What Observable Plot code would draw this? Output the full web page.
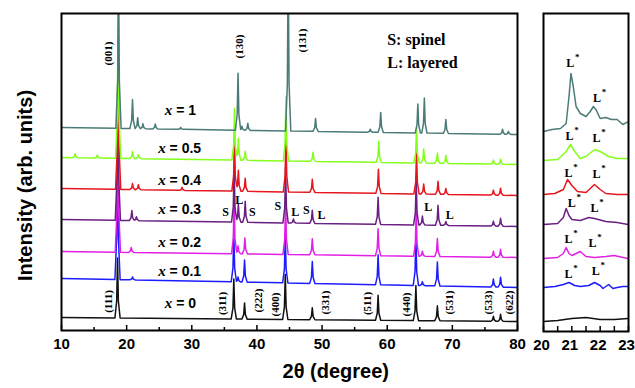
<!DOCTYPE html>
<html><head><meta charset="utf-8">
<script src="https://cdn.jsdelivr.net/npm/d3@7"></script>
<script src="https://cdn.jsdelivr.net/npm/@observablehq/plot@0.6"></script>
<style>
html,body{margin:0;padding:0;background:#fff;}
#wrap{position:relative;width:635px;height:388px;overflow:hidden;}
#wrap svg{position:absolute;top:0;overflow:visible;}
</style></head>
<body><div id="wrap"></div>
<script>
// ---- data (intensity in arbitrary, offset units) ----
const seriesNames = ["x = 0", "x = 0.1", "x = 0.2", "x = 0.3", "x = 0.4", "x = 0.5", "x = 1"];
const seriesValues = ["0", "0.1", "0.2", "0.3", "0.4", "0.5", "1"];
const seriesColors = ["#111111", "#1c1cff", "#e21fe6", "#6a1f82", "#e5161d", "#84ff1a", "#4a7b77"];
// background level at 2θ = 10 and 2θ = 80
const background = [[13, 9], [52, 43], [79, 73], [111, 104], [142, 135], [173, 166], [203, 196]];
// [2θ, peak height above background]
const peaks0 = [[18.6,60],[36.45,40],[38.1,16],[44.35,45],[48.5,12],[58.6,25],[64.4,35],[67.7,15],[76.3,5],[77.4,7]];
const peaks01 = [[18.6,150],[20.9,3],[36.45,50],[37.1,5],[38.1,22],[44.35,50],[48.5,22],[58.6,30],[64.4,50],[65.4,4],[67.7,24],[76.3,8],[77.4,10]];
const peaks02 = [[18.65,150],[20.7,5],[36.5,55],[37.1,8],[38.15,16],[44.4,55],[48.5,16],[58.6,27],[64.45,45],[65.4,5],[67.7,18],[76.3,6],[77.4,8]];
const peaks03 = [[18.65,150],[20.8,10],[21.5,4],[36.5,55],[37.15,18],[38.2,21],[44.4,55],[45.6,4],[48.5,13],[58.6,27],[64.45,45],[65.4,9],[67.8,20],[69.0,4],[76.3,5],[77.4,8]];
const peaks04 = [[18.7,150],[20.9,6],[21.8,5],[28.5,3],[36.55,55],[37.15,21],[38.2,13],[44.45,57],[48.5,13],[58.65,24],[64.5,42],[65.6,10],[67.8,13],[69.0,6],[76.3,5],[77.4,7]];
const peaks05 = [[12.1,4],[15.5,3],[18.7,150],[20.9,7],[21.8,4],[36.55,52],[37.15,22],[38.2,9],[44.45,64],[48.6,9],[58.7,21],[64.5,36],[65.6,14],[67.7,10],[69.0,8],[76.3,4],[77.4,5]];
const peaks1 = [[18.75,170],[20.9,29],[21.7,11],[22.5,5],[24.4,5],[28.3,2],[37.1,57],[37.7,4],[38.6,7],[44.8,170],[49.0,13],[57.4,3],[59.0,20],[64.7,29],[65.7,35],[69.0,14],[77.7,5],[78.6,3]];
const peakLists = [peaks0, peaks01, peaks02, peaks03, peaks04, peaks05, peaks1];

// zoomed panel 20–23°: [2θ, intensity]
const zoom0 = [[20,10],[20.5,11],[21,13],[21.5,14],[22,12],[22.5,12],[23,13]];
const zoom01 = [[20,44],[20.4,45],[20.7,47],[20.9,49],[21.1,46],[21.3,45],[21.6,46],[21.8,49],[22.0,46],[22.1,43],[22.3,47],[22.45,43],[22.6,44],[22.8,45],[23,45]];
const zoom02 = [[20,73],[20.5,74],[20.7,78],[20.8,84],[20.9,78],[21.0,76],[21.3,80],[21.5,75],[21.8,74],[22.2,75],[22.5,76],[22.8,74],[23,73]];
const zoom03 = [[20,107],[20.5,108],[20.7,114],[20.8,123],[20.9,116],[21.0,112],[21.3,111],[21.6,114],[21.8,113],[22.2,110],[22.6,109],[23,107]];
const zoom04 = [[20,137],[20.4,138],[20.7,142],[20.85,152],[21.0,146],[21.2,140],[21.5,139],[21.8,147],[22.0,142],[22.2,138],[22.6,137],[23,137]];
const zoom05 = [[20,171],[20.5,172],[20.8,180],[20.95,187],[21.1,180],[21.3,173],[21.5,175],[21.8,182],[22.0,180],[22.3,175],[22.6,173],[23,173]];
const zoom1 = [[20,200],[20.3,202],[20.6,203],[20.8,208],[20.9,235],[20.97,258],[21.05,245],[21.15,225],[21.3,218],[21.5,215],[21.65,220],[21.76,225],[21.85,222],[22.0,213],[22.2,214],[22.4,212],[22.6,212],[22.8,207],[23,210]];
const zoomLists = [zoom0, zoom01, zoom02, zoom03, zoom04, zoom05, zoom1];

const majorTicks = [10, 20, 30, 40, 50, 60, 70, 80];
const minorTicks = [15, 25, 35, 45, 55, 65, 75];
const zoomMajor = [20, 21, 22, 23];
const zoomMinor = [20.5, 21.5, 22.5];

// annotation texts
const topHkl = ["(001)", "(130)", "(131)"];
const bottomHkl = ["(111)", "(311)", "(222)", "(400)", "(331)", "(511)", "(440)", "(531)", "(533)", "(622)"];
const phaseMarks = ["S", "L", "S", "S", "L", "S", "L", "L", "L"];
const legendLines = ["S: spinel", "L: layered"];

// ---- layout of annotations (2θ, level) ----
const topHklPos = [[17.2,277],[37.3,284],[47.0,290]];
const bottomHklPos = [[17.2,29],[34.7,27],[40.2,30],[42.85,26],[50.5,28],[57.0,27],[63.0,26],[69.6,28],[75.6,28],[78.8,28]];
const phasePos = [[35.2,118],[37.3,130],[39.3,118],[43.2,124],[45.9,118],[47.6,120],[49.9,115],[66.3,123],[69.6,115]];
const seriesLabelPos = [[27.0,27],[26.0,59],[26.0,88],[26.0,121],[26.0,150],[26.0,182],[27.0,220]];
const legendPos = [[60.0,291],[60.0,268]];
const zoomLPos = [
  [[20.88,57],[21.84,60]], [[20.88,92],[21.73,88]], [[21.0,128],[21.8,123]],
  [[20.88,158],[21.87,157]], [[20.92,195],[21.87,193]], [[20.94,268],[21.89,233]]
];

// peak profile: piecewise-linear (base half-width, shoulder half-width, shoulder fraction)
const BASE = 0.4, SH = 0.13, SHF = 0.28;
function traceRows(bg, pk) {
  const bgAt = t => bg[0] + (bg[1] - bg[0]) * (t - 10) / 70;
  const contrib = (t, p, h) => {
    const d = Math.abs(t - p);
    if (d >= BASE) return 0;
    if (d <= SH) return h - (h - h * SHF) * d / SH;
    return h * SHF * (BASE - d) / (BASE - SH);
  };
  const ts = [10, 80];
  for (const [p] of pk) ts.push(p - BASE, p - SH, p, p + SH, p + BASE);
  ts.sort((a, b) => a - b);
  return ts.map(t => ({t, v: bgAt(t) + pk.reduce((s, [p, h]) => s + contrib(t, p, h), 0)}));
}

const serif = "Liberation Serif";
const sans = "Liberation Sans";

const mainMarks = [];
seriesNames.forEach((n, i) => {
  mainMarks.push(Plot.line(traceRows(background[i], peakLists[i]), {x: "t", y: "v", stroke: seriesColors[i], strokeWidth: 1.5, clip: true}));
});
mainMarks.push(
  Plot.frame({stroke: "#000", strokeWidth: 2}),
  Plot.ruleX(majorTicks, {x: d => d, y1: 0, y2: 5, stroke: "#000", strokeWidth: 1.5}),
  Plot.ruleX(minorTicks, {x: d => d, y1: 0, y2: 3, stroke: "#000", strokeWidth: 1.5}),
  Plot.axisX({ticks: majorTicks, tickSize: 0, tickPadding: 8, label: null, fontSize: 15, fontWeight: "bold", fontFamily: sans, fill: "#000"}),
  Plot.text(topHkl, {x: (d, i) => topHklPos[i][0], y: (d, i) => topHklPos[i][1], text: d => d, rotate: -90, fontFamily: serif, fontWeight: "bold", fontSize: 11, fill: "#000"}),
  Plot.text(bottomHkl, {x: (d, i) => bottomHklPos[i][0], y: (d, i) => bottomHklPos[i][1], text: d => d, rotate: -90, fontFamily: serif, fontWeight: "bold", fontSize: 11, fill: "#000"}),
  Plot.text(phaseMarks, {x: (d, i) => phasePos[i][0], y: (d, i) => phasePos[i][1], text: d => d, fontFamily: serif, fontWeight: "bold", fontSize: 12, fill: "#000"}),
  Plot.text(legendLines, {x: (d, i) => legendPos[i][0], y: (d, i) => legendPos[i][1], text: d => d, textAnchor: "start", fontFamily: serif, fontWeight: "bold", fontSize: 16, fill: "#000"}),
  Plot.text(seriesValues, {x: (d, i) => seriesLabelPos[i][0], y: (d, i) => seriesLabelPos[i][1], text: d => "x", textAnchor: "end", fontFamily: serif, fontStyle: "italic", fontWeight: "bold", fontSize: 15, fill: "#000"}),
  Plot.text(seriesValues, {x: (d, i) => seriesLabelPos[i][0], y: (d, i) => seriesLabelPos[i][1], text: d => "\u00a0= " + d, textAnchor: "start", fontFamily: sans, fontWeight: "bold", fontSize: 14, fill: "#000"}),
  Plot.text(["2θ (degree)"], {x: 52.1, frameAnchor: "bottom", dy: 47, text: d => d, fontFamily: sans, fontWeight: "bold", fontSize: 20, fill: "#000"}),
  Plot.text(["Intensity (arb. units)"], {frameAnchor: "left", textAnchor: "middle", y: 145, dx: -36, rotate: -90, text: d => d, fontFamily: sans, fontWeight: "bold", fontSize: 20, fill: "#000"})
);

const main = Plot.plot({
  width: 530, height: 388,
  marginLeft: 61, marginRight: 13, marginTop: 13, marginBottom: 58,
  x: {domain: [10, 80], axis: null, label: null},
  y: {domain: [0, 317], axis: null, label: null},
  style: {background: "transparent", overflow: "visible"},
  marks: mainMarks
});
main.style.left = "0px";

const zoomMarks = [];
seriesNames.forEach((n, i) => {
  zoomMarks.push(Plot.line(zoomLists[i], {x: d => d[0], y: d => d[1], stroke: seriesColors[i], strokeWidth: 1.5, clip: true}));
});
zoomLPos.forEach(pair => {
  zoomMarks.push(
    Plot.text(pair, {x: d => d[0], y: d => d[1], text: () => "L", fontFamily: serif, fontWeight: "bold", fontSize: 12, fill: "#000"}),
    Plot.text(pair, {x: d => d[0], y: d => d[1], text: () => "*", dx: 7, dy: -6, fontFamily: serif, fontWeight: "bold", fontSize: 9, fill: "#000"})
  );
});
zoomMarks.push(
  Plot.frame({stroke: "#000", strokeWidth: 2}),
  Plot.ruleX(zoomMajor, {x: d => d, y1: 0, y2: 5, stroke: "#000", strokeWidth: 1.5}),
  Plot.ruleX(zoomMinor, {x: d => d, y1: 0, y2: 5, stroke: "#000", strokeWidth: 1.5}),
  Plot.axisX({ticks: zoomMajor, tickSize: 0, tickPadding: 8, dx: -2, label: null, fontSize: 15, fontWeight: "bold", fontFamily: sans, fill: "#000", tickFormat: d => String(d)})
);
const inset = Plot.plot({
  width: 105, height: 388,
  marginLeft: 13, marginRight: 7, marginTop: 13, marginBottom: 57,
  x: {domain: [20, 23], axis: null, label: null},
  y: {domain: [0, 318], axis: null, label: null},
  style: {background: "transparent", overflow: "visible"},
  marks: zoomMarks
});
inset.style.left = "530px";

document.getElementById("wrap").append(main, inset);
</script></body></html>
